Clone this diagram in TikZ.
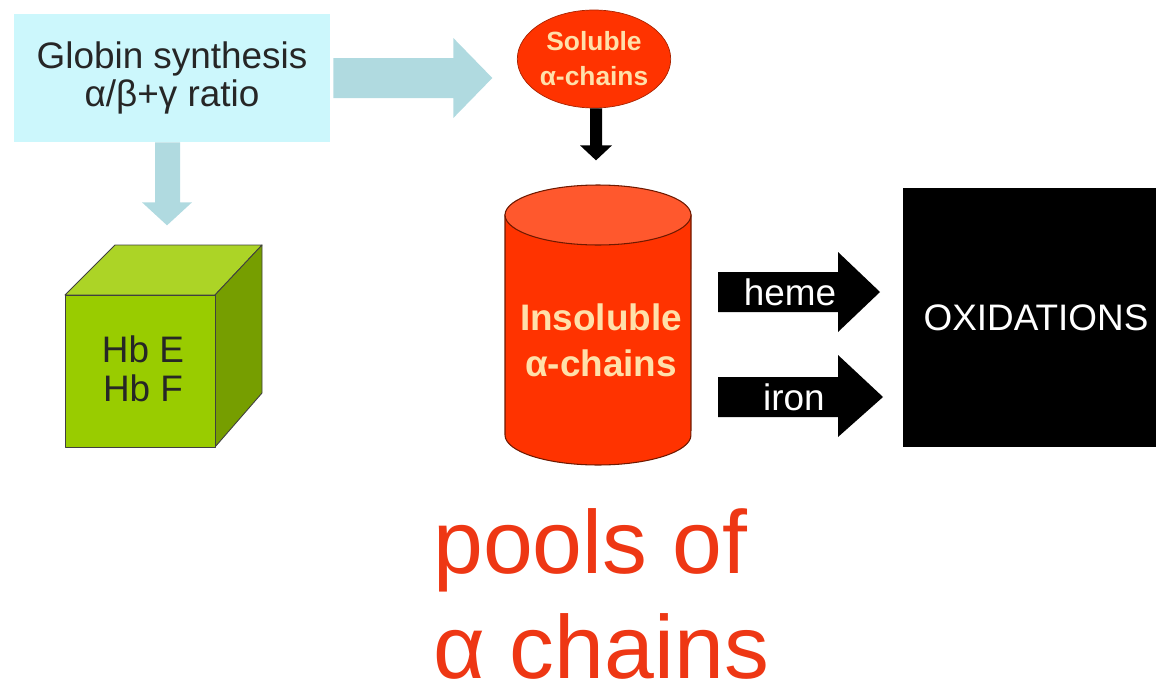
\documentclass[tikz,border=0pt]{standalone}
\usepackage{fontspec}
\setmainfont{Liberation Sans}
\usetikzlibrary{shapes.geometric}

\definecolor{paleblue}{RGB}{204,247,252}
\definecolor{arrowblue}{RGB}{176,218,224}
\definecolor{redorange}{RGB}{255,51,0}
\definecolor{cyltop}{RGB}{255,88,45}
\definecolor{rededge}{RGB}{110,25,0}
\definecolor{cream}{RGB}{255,224,170}
\definecolor{cubefront}{RGB}{153,204,0}
\definecolor{cubetop}{RGB}{172,212,38}
\definecolor{cubeside}{RGB}{118,158,0}
\definecolor{poolred}{RGB}{238,55,20}

\tikzset{
  bigtext/.style={font=\fontsize{21}{22}\selectfont},
  palearrow/.style={fill=arrowblue},
  blackarrow/.style={fill=black},
  cubeface/.style={draw=black!75, line width=0.5pt, line join=round},
}

\begin{document}
\begin{tikzpicture}[x=0.02cm, y=-0.02cm]
  \useasboundingbox (0,0) rectangle (1156,693);

  % globin box and its two pale arrows
  \node[fill=paleblue, minimum width=6.32cm, minimum height=2.56cm, align=center,
        text=black!85, bigtext] (globin) at (172,78) {Globin synthesis\\α/β+γ ratio};
  \fill[palearrow] (globin.east) ++(3,-20) -- ++(120,0) -- ++(0,-20) -- ++(39,40)
        -- ++(-39,40) -- ++(0,-20) -- ++(-120,0) -- cycle;
  \fill[palearrow] (globin.south) ++(-17,0) -- ++(0,60) -- ++(-13,0) -- ++(25,23)
        -- ++(25,-23) -- ++(-12,0) -- ++(0,-60) -- cycle;

  % Hb cube
  \filldraw[cubeface, fill=cubetop] (65,295) -- (115,245) -- (262,245) -- (215,295) -- cycle;
  \filldraw[cubeface, fill=cubeside] (215,295) -- (262,245) -- (262,393) -- (215,447) -- cycle;
  \filldraw[cubeface, fill=cubefront] (65,295) rectangle (215,447);
  \node[align=center, text=black!85, bigtext] (hb) at (143,369) {Hb E\\Hb F};

  % soluble chains
  \node[ellipse, fill=redorange, draw=rededge!60!redorange, thin, minimum width=2.96cm,
        minimum height=1.96cm, inner sep=0pt, align=center, text=cream,
        font=\bfseries\fontsize{15}{20}\selectfont] (soluble) at (594,59) {Soluble\\α-chains};
  \fill[blackarrow] (soluble.south) ++(-4,0) -- ++(0,37) -- ++(-10,0) -- ++(16,15)
        -- ++(16,-15) -- ++(-10,0) -- ++(0,-37) -- cycle;

  % insoluble chains
  \filldraw[fill=redorange, draw=rededge, line width=0.6pt] (505,215) -- (505,435)
        arc[start angle=180, end angle=360, x radius=1.86cm, y radius=0.6cm] -- (691,215) -- cycle;
  \filldraw[fill=cyltop, draw=rededge, line width=0.6pt] (598,215) ellipse[x radius=1.86cm, y radius=0.6cm];
  \node[align=center, text=cream, font=\bfseries\fontsize{21}{26}\selectfont] (insol) at (601,340) {Insoluble\\α-chains};

  % heme and iron arrows
  \fill[blackarrow] (718,272) -- (838,272) -- (838,252) -- (880,292) -- (838,332)
        -- (838,312) -- (718,312) -- cycle;
  \node[text=white, bigtext] (heme) at (790,292) {heme};
  \fill[blackarrow] (718,377) -- (838,377) -- (838,355) -- (883,397) -- (838,437)
        -- (838,417) -- (718,417) -- cycle;
  \node[text=white, bigtext] (iron) at (794,397) {iron};

  \node[fill=black, text=white, minimum width=5.32cm, minimum height=5.18cm, bigtext] (oxid) at (1036,317.5) {OXIDATIONS};

  \node[anchor=north west, inner sep=0pt, align=left, text=poolred,
        font=\fontsize{51}{60}\selectfont] (pools) at (433,508) {pools of\\α chains};
\end{tikzpicture}
\end{document}
